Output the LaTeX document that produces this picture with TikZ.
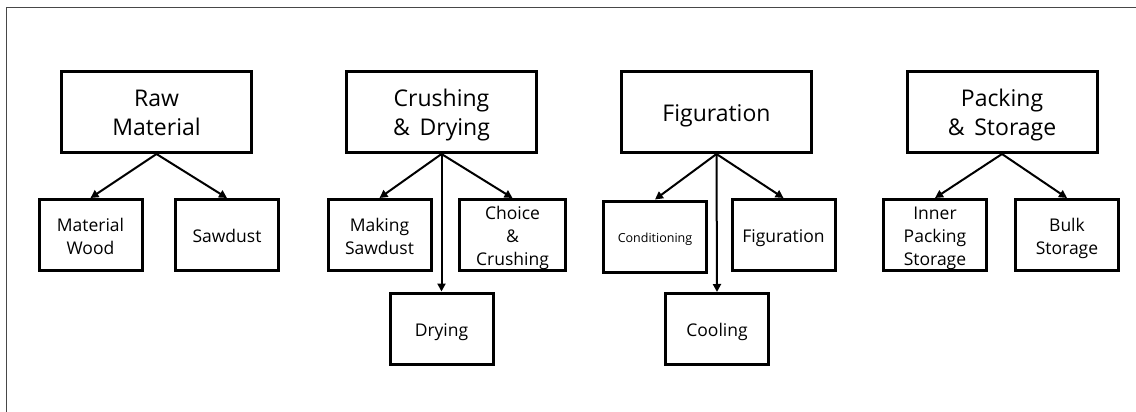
\documentclass[tikz,border=0pt]{standalone}
\usepackage{fontspec}
\setmainfont{Open Sans}
\usetikzlibrary{arrows.meta}
% centred stack of lines, drawn a little lower than its reported size
\newcommand{\boxtext}[1]{\raisebox{-3pt}[\height][\depth]{\begin{tabular}{@{}c@{}}#1\end{tabular}}}
\begin{document}
\begin{tikzpicture}[x=1pt,y=-1pt,
  stage/.style={draw=black, line width=3pt, minimum width=190pt, minimum height=81pt,
    inner sep=0pt, font=\fontsize{23}{30}\selectfont},
  task/.style={draw=black, line width=3pt, minimum width=103pt, minimum height=71pt,
    inner sep=0pt, font=\fontsize{17.5}{23}\selectfont},
  flow/.style={line width=2pt, -{Triangle[length=8pt,width=8pt]}},
  frame/.style={draw=black!72, line width=1.3pt}]
\useasboundingbox (0,0) rectangle (1136,412);
% outer frame
\draw[frame] (6.5,412) -- (6.5,7.5) -- (1136,7.5);

% process stages
\node[stage] (raw)   at (156.5,112) {\boxtext{Raw\\Material}};
\node[stage] (crush) at (441.5,112) {\boxtext{Crushing\\\&\, Drying}};
\node[stage] (fig)   at (716.5,112) {\boxtext{Figuration}};
\node[stage] (pack)  at (1002,112)  {\boxtext{Packing\\\&\, Storage}};

% sub-tasks
\node[task] (wood)  at (90.5,235)  {\boxtext{Material\\Wood}};
\node[task] (saw)   at (227,235)   {\boxtext{Sawdust}};
\node[task] (make)  at (379.5,235) {\boxtext{Making\\Sawdust}};
\node[task, minimum width=106pt] (choice) at (512.5,235) {\boxtext{Choice\\\&\\Crushing}};
\node[task] (dry)   at (441.5,328.5) {\boxtext{Drying}};
\node[task, font=\fontsize{12.5}{16}\selectfont] (cond) at (655,236.5) {\boxtext{Conditioning}};
\node[task] (figt)  at (783.5,235) {\boxtext{Figuration}};
\node[task] (cool)  at (717,329)   {\boxtext{Cooling}};
\node[task] (inner) at (935,235)   {\boxtext{Inner\\Packing\\Storage}};
\node[task] (bulk)  at (1067,235)  {\boxtext{Bulk\\Storage}};

% connectors
\draw[flow] (raw.south) -- (wood.north);
\draw[flow] (raw.south) -- (saw.north);
\draw[flow] (crush.south) -- (make.north);
\draw[flow] (crush.south) -- (choice.north);
\draw[flow] (crush.south) -- (dry.north);
\draw[flow] (fig.south) -- (cond.north);
\draw[flow] (fig.south) -- (figt.north);
\draw[flow] (fig.south) -- (cool.north);
\draw[flow] (pack.south) -- (inner.north);
\draw[flow] (pack.south) -- (bulk.north);
\end{tikzpicture}
\end{document}
